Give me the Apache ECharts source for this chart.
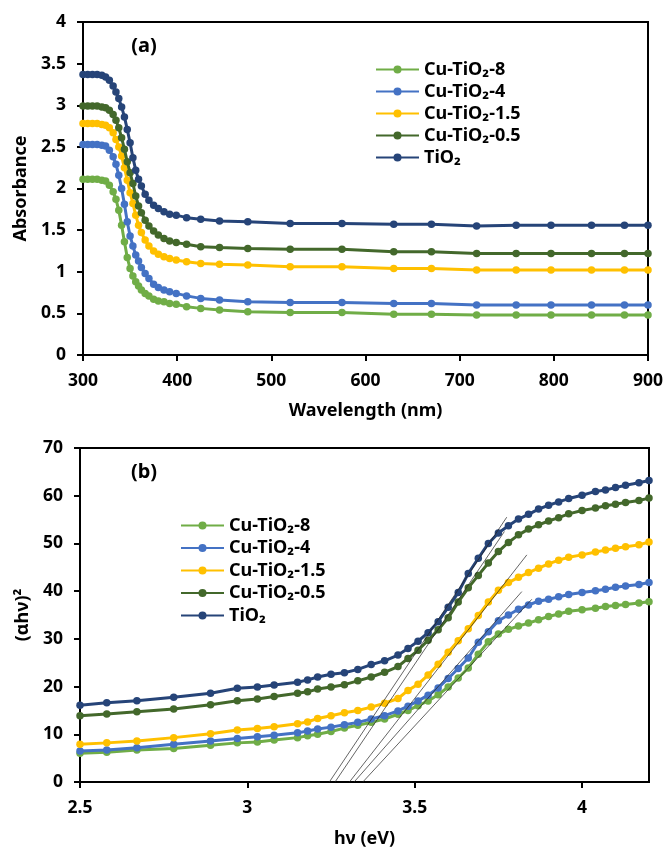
<!DOCTYPE html>
<html>
<head>
<meta charset="utf-8">
<script src="https://cdn.jsdelivr.net/npm/echarts@6/dist/echarts.min.js"></script>
<style>
html,body{margin:0;padding:0;background:#fff;}
#chart{width:663px;height:847px;}
</style>
</head>
<body>
<div id="chart"></div>
<script>
// ---------- Data: panel (a) absorbance vs wavelength ----------
const wavelength = [300,305,310,315,320,324,328,332,335,338,341,344,347,350,353,356,359,362,366,370,375,380,386,392,399,410,425,445,475,520,575,630,670,718,760,797,840,875,900];
const absCu8   = [2.11,2.11,2.11,2.11,2.10,2.09,2.04,1.96,1.87,1.74,1.56,1.36,1.17,1.04,0.95,0.88,0.83,0.78,0.74,0.71,0.67,0.65,0.64,0.62,0.61,0.58,0.56,0.54,0.52,0.51,0.51,0.49,0.49,0.48,0.48,0.48,0.48,0.48,0.48];
const absCu4   = [2.53,2.53,2.53,2.53,2.52,2.51,2.46,2.38,2.29,2.16,2.00,1.81,1.60,1.43,1.31,1.20,1.13,1.05,0.98,0.92,0.85,0.81,0.78,0.76,0.74,0.71,0.68,0.66,0.64,0.63,0.63,0.62,0.62,0.60,0.60,0.60,0.60,0.60,0.60];
const absCu15  = [2.78,2.78,2.78,2.78,2.77,2.76,2.73,2.67,2.59,2.50,2.39,2.25,2.10,1.95,1.82,1.68,1.56,1.47,1.38,1.31,1.25,1.21,1.18,1.16,1.14,1.12,1.10,1.09,1.08,1.06,1.06,1.04,1.04,1.02,1.02,1.02,1.02,1.02,1.02];
const absCu05  = [2.99,2.99,2.99,2.99,2.98,2.97,2.94,2.89,2.82,2.73,2.61,2.47,2.32,2.19,2.06,1.91,1.79,1.71,1.62,1.55,1.49,1.44,1.40,1.37,1.35,1.33,1.30,1.29,1.28,1.27,1.27,1.24,1.24,1.22,1.22,1.22,1.22,1.22,1.22];
const absTiO2  = [3.37,3.37,3.37,3.37,3.36,3.34,3.30,3.23,3.16,3.08,2.98,2.86,2.71,2.55,2.37,2.22,2.11,2.03,1.93,1.86,1.80,1.76,1.72,1.69,1.68,1.65,1.63,1.61,1.60,1.58,1.58,1.57,1.57,1.55,1.56,1.56,1.56,1.56,1.56];

// ---------- Data: panel (b) (αhν)² vs photon energy ----------
const hv = [2.5,2.58,2.67,2.78,2.89,2.97,3.03,3.08,3.15,3.18,3.21,3.25,3.29,3.33,3.37,3.41,3.45,3.48,3.51,3.54,3.57,3.60,3.63,3.66,3.69,3.72,3.75,3.78,3.81,3.84,3.87,3.90,3.93,3.96,4.00,4.04,4.07,4.10,4.13,4.17,4.20];
const taucCu8  = [6.0,6.25,6.7,7.0,7.7,8.2,8.4,8.8,9.3,9.7,10.0,10.6,11.3,11.9,12.5,13.2,14.2,15.0,16.0,17.0,18.3,19.9,21.8,23.9,26.8,29.4,31.0,32.0,32.7,33.3,34.0,34.7,35.2,35.8,36.1,36.4,36.8,37.0,37.2,37.5,37.8];
const taucCu4  = [6.5,6.7,7.2,7.9,8.6,9.1,9.5,9.8,10.3,10.7,11.1,11.5,12.0,12.5,13.2,13.9,14.9,15.9,17.0,18.2,19.7,21.7,23.8,26.0,29.3,31.5,33.8,35.0,36.2,37.1,37.9,38.3,38.8,39.3,39.7,40.1,40.4,40.8,41.1,41.4,41.8];
const taucCu15 = [7.9,8.2,8.6,9.3,10.1,10.9,11.2,11.6,12.2,12.6,13.3,13.9,14.5,15.0,15.7,16.5,17.5,19.2,20.5,22.4,24.7,27.2,29.6,32.1,34.9,37.7,40.2,41.8,42.9,43.9,44.8,45.7,46.5,47.1,47.6,48.2,48.6,49.0,49.3,49.7,50.3];
const taucCu05 = [13.9,14.25,14.7,15.3,16.2,17.05,17.4,17.9,18.6,18.9,19.5,19.9,20.4,21.2,22.0,23.0,24.2,25.9,27.6,29.7,31.9,34.4,37.7,40.7,43.3,45.9,48.3,50.2,51.8,53.0,53.9,54.7,55.4,56.2,56.9,57.4,57.9,58.2,58.6,59.0,59.5];
const taucTiO2 = [16.1,16.6,17.05,17.75,18.6,19.65,19.9,20.35,20.9,21.4,22.0,22.6,22.9,23.6,24.6,25.4,26.6,28.0,29.5,31.3,33.6,36.6,39.7,43.7,46.9,50.0,52.2,53.7,55.1,56.1,57.2,58.0,58.7,59.4,60.1,60.9,61.2,61.7,62.2,62.7,63.2];

// Tangent (Tauc extrapolation) lines: [start, end] in data coordinates
const tangentCu8  = [[3.345,0],[3.85,38.3]];
const tangentCu4  = [[3.319,0],[3.82,39.9]];
const tangentCu15 = [[3.305,0],[3.835,47.6]];
const tangentCu05 = [[3.262,0],[3.768,52.5]];
const tangentTiO2 = [[3.245,0],[3.775,55.5]];

const seriesNames = ['Cu-TiO\u2082-8','Cu-TiO\u2082-4','Cu-TiO\u2082-1.5','Cu-TiO\u2082-0.5','TiO\u2082'];
const colors = ['#70AD47','#4472C4','#FFC000','#43682B','#264478'];
const absData = [absCu8, absCu4, absCu15, absCu05, absTiO2];
const taucData = [taucCu8, taucCu4, taucCu15, taucCu05, taucTiO2];
const tangents = [tangentCu8, tangentCu4, tangentCu15, tangentCu05, tangentTiO2];

const FONT = '"Noto Sans", "Open Sans", "DejaVu Sans", sans-serif';
const FS = 17.5;
const chart = echarts.init(document.getElementById('chart'), null, {renderer:'canvas'});

function axisCommon(){
  return {
    axisLine:{show:true, onZero:false, lineStyle:{color:'#000', width:2}},
    axisTick:{show:true, inside:false, length:6, lineStyle:{color:'#000', width:2}},
    splitLine:{show:false},
    axisLabel:{color:'#000', fontSize:FS, fontWeight:'bold', fontFamily:FONT},
    nameTextStyle:{color:'#000', fontSize:18, fontWeight:'bold', fontFamily:FONT}
  };
}

const series = [];
seriesNames.forEach((n,i)=>{
  series.push({
    name:n, type:'line', xAxisIndex:0, yAxisIndex:0,
    data: wavelength.map((w,k)=>[w, absData[i][k]]),
    symbol:'circle', symbolSize:7.5, showSymbol:true,
    lineStyle:{color:colors[i], width:3},
    itemStyle:{color:colors[i]},
    z: 2+i, animation:false
  });
});
seriesNames.forEach((n,i)=>{
  series.push({
    name:n, type:'line', xAxisIndex:1, yAxisIndex:1,
    data: hv.map((h,k)=>[h, taucData[i][k]]),
    symbol:'circle', symbolSize:7.5, showSymbol:true,
    lineStyle:{color:colors[i], width:3},
    itemStyle:{color:colors[i]},
    z: 2+i, animation:false
  });
});
tangents.forEach((t,i)=>{
  series.push({
    name:'tangent'+i, type:'line', xAxisIndex:1, yAxisIndex:1,
    data:t, symbol:'none', silent:true,
    lineStyle:{color:'#222', width:0.7},
    z: 20, animation:false
  });
});

const legendCommon = {
  orient:'vertical', padding:0, itemWidth:43, itemHeight:10, itemGap:3,
  data: seriesNames,
  textStyle:{color:'#000', fontSize:18, fontWeight:'bold', fontFamily:FONT, lineHeight:19},
  selectedMode:false
};

const option = {
  backgroundColor:'#fff',
  animation:false,
  grid:[
    {left:83, right:15, top:22, bottom:492, show:true, borderColor:'#000', borderWidth:2, backgroundColor:'transparent', outerBoundsMode:'none'},
    {left:80, right:14, top:448, bottom:65, show:true, borderColor:'#000', borderWidth:2, backgroundColor:'transparent', outerBoundsMode:'none'}
  ],
  xAxis:[
    Object.assign(axisCommon(), {type:'value', gridIndex:0, min:300, max:900, interval:100,
      name:'Wavelength (nm)', nameLocation:'middle', nameGap:47}),
    Object.assign(axisCommon(), {type:'value', gridIndex:1, min:2.5, max:4.2, interval:0.5,
      name:'h\u03bd (eV)', nameLocation:'middle', nameGap:48})
  ],
  yAxis:[
    Object.assign(axisCommon(), {type:'value', gridIndex:0, min:0, max:4, interval:0.5,
      name:'Absorbance', nameLocation:'middle', nameGap:53}),
    Object.assign(axisCommon(), {type:'value', gridIndex:1, min:0, max:70, interval:10,
      name:'(\u03b1h\u03bd)\u00b2', nameLocation:'middle', nameGap:48})
  ],
  legend:[
    Object.assign({}, legendCommon, {left:375, top:60}),
    Object.assign({}, legendCommon, {left:180, top:516, itemGap:3.5})
  ],
  graphic:[
    {type:'text', x:144, y:46, style:{text:'(a)', fill:'#000', font:'bold 20px '+FONT, align:'center', verticalAlign:'middle'}},
    {type:'text', x:144, y:472, style:{text:'(b)', fill:'#000', font:'bold 20px '+FONT, align:'center', verticalAlign:'middle'}}
  ],
  series: series
};
option.xAxis.forEach(a=>{a.axisLabel.margin=17;});
option.yAxis.forEach(a=>{a.axisLabel.margin=17;});
option.xAxis[1].axisLabel.showMaxLabel=false;
chart.setOption(option);
</script>
</body>
</html>
